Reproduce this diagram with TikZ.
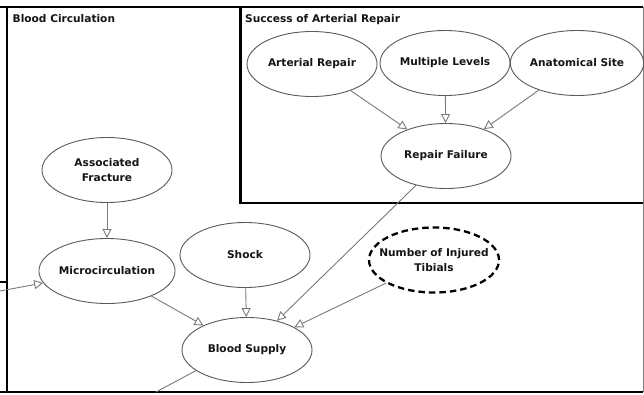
\documentclass[tikz,border=0pt]{standalone}
\usepackage{fontspec}
\setmainfont{DejaVu Sans}
\usetikzlibrary{shapes.geometric,arrows.meta}

\definecolor{edgegray}{HTML}{7A7A7A}
\definecolor{rimgray}{HTML}{5A5A5A}
\definecolor{txt}{HTML}{151515}

\tikzset{
  var/.style={ellipse, draw=rimgray, line width=0.9pt, minimum width=130pt,
    minimum height=65pt, inner sep=0pt, align=center, text=txt,
    font=\bfseries\fontsize{10.6}{15.5}\selectfont},
  hidden var/.style={var, draw=black, line width=2.3pt, dash pattern=on 6.5pt off 4pt,
    inner xsep=-11pt},
  link/.style={draw=edgegray, line width=0.9pt,
    -{Triangle[open, length=9pt, width=9pt, fill=white]}},
  plain link/.style={draw=edgegray, line width=0.9pt},
  frame/.style={draw=black, line width=2.2pt},
  title/.style={anchor=base west, inner sep=0pt, text=txt,
    font=\bfseries\fontsize{10.6}{12}\selectfont}
}

\begin{document}
\begin{tikzpicture}[x=1pt, y=-1pt]
  \useasboundingbox (0,0) rectangle (644,394);
  \fill[white] (0,0) rectangle (644,394);

  % group frames
  \draw[frame] (0,7) -- (643,7);
  \draw[frame, line width=2.8pt] (7,6) -- (7,393);
  \draw[frame] (0,392) -- (643,392);
  \draw[frame] (0,282) -- (7,282);
  \draw[draw=gray, line width=1pt] (643,7) -- (643,392);
  \draw[frame] (240.5,7) -- (240.5,203) -- (643,203);

  \node[title] (t1) at (12.5,22) {Blood Circulation};
  \node[title] (t2) at (245,22) {Success of Arterial Repair};

  % variables
  \node[var] (ar) at (312,64) {Arterial Repair};
  \node[var] (ml) at (445,63) {Multiple Levels};
  \node[var] (as) at (577,63) {Anatomical Site};
  \node[var] (rf) at (446,156) {Repair Failure};
  \node[var] (af) at (107,170) {Associated\\Fracture};
  \node[var] (mc) at (107,271) {Microcirculation};
  \node[var] (sh) at (245,255) {Shock};
  \node[var] (bs) at (247,350) {Blood Supply};
  \node[hidden var] (nt) at (434,260) {Number of Injured\\Tibials};

  \coordinate (inl) at (0,291);
  \coordinate (outl) at (156,392);

  % dependencies
  \draw[link] (ar) -- (rf);
  \draw[link] (ml) -- (rf);
  \draw[link] (as) -- (rf);
  \draw[link] (af) -- (mc);
  \draw[link] (inl) -- (mc);
  \draw[link] (mc) -- (bs);
  \draw[link] (sh) -- (bs);
  \draw[link] (rf) -- (bs);
  \draw[link] (nt) -- (bs);
  \draw[plain link] (bs.202) -- (outl);
\end{tikzpicture}
\end{document}
